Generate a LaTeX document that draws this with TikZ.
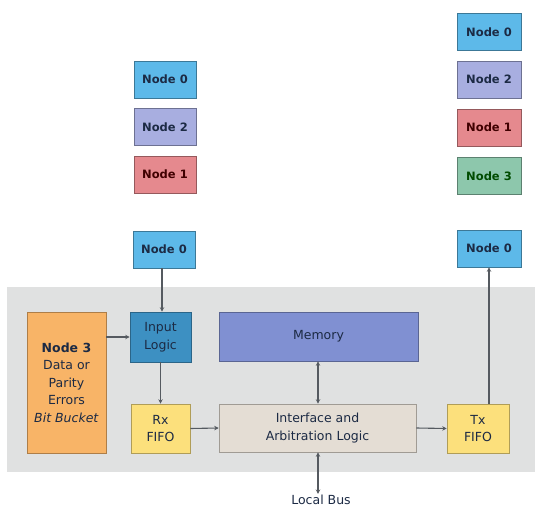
\documentclass[tikz,border=0pt]{standalone}
\usepackage{fontspec}
\setmainfont{DejaVu Sans}
\usetikzlibrary{arrows.meta}
\definecolor{cNzero}{HTML}{5DB9E9}
\definecolor{cNtwo}{HTML}{A8AEE0}
\definecolor{cNone}{HTML}{E5898E}
\definecolor{cNthree}{HTML}{8DC7AC}
\definecolor{cOrange}{HTML}{F8B467}
\definecolor{cInput}{HTML}{3D90C2}
\definecolor{cMemory}{HTML}{8090D2}
\definecolor{cFifo}{HTML}{FCE07C}
\definecolor{cIface}{HTML}{E4DDD4}
\definecolor{cBand}{HTML}{E0E1E1}
\definecolor{cText}{HTML}{1C2A44}
\definecolor{cLine}{HTML}{555A60}
\tikzset{
  nodebox/.style={draw=#1!65!black, fill=#1, line width=0.6pt, minimum width=62pt, minimum height=37pt,
    inner sep=0pt, font=\fontsize{11.5}{13}\selectfont\bfseries, text=cText},
  blockbox/.style={draw=#1!70!black, fill=#1, line width=0.6pt, inner sep=0pt, align=center,
    font=\fontsize{12.5}{17.5}\selectfont, text=cText},
  conn/.style={draw=cLine, line width=1.1pt, -{Stealth[length=4.5pt,width=4.5pt]}},
  dconn/.style={draw=cLine, line width=1.1pt, {Stealth[length=4.5pt,width=4.5pt]}-{Stealth[length=4.5pt,width=4.5pt]}},
}
\begin{document}
\begin{tikzpicture}[x=1pt,y=-1pt]
\useasboundingbox (0,0) rectangle (535,508);
\fill[white] (0,0) rectangle (535,508);
\fill[cBand] (7,287) rectangle (535,472);

% left stack
\node[nodebox=cNzero] (l0) at (165,79.5) {Node 0};
\node[nodebox=cNtwo] (l2) at (165,127) {Node 2};
\node[nodebox=cNone, text=black!75!red] (l1) at (165,174.5) {Node 1};
\node[nodebox=cNzero] (lb0) at (164,249.5) {Node 0};

% right stack
\node[nodebox=cNzero, minimum width=64pt] (r0) at (489,32) {Node 0};
\node[nodebox=cNtwo, minimum width=64pt] (r2) at (489,79.5) {Node 2};
\node[nodebox=cNone, minimum width=64pt, text=black!75!red] (r1) at (489,127.5) {Node 1};
\node[nodebox=cNthree, minimum width=64pt, text=black!70!green] (r3) at (489,176) {Node 3};
\node[nodebox=cNzero, minimum width=64pt] (rb0) at (489,248.5) {Node 0};

% main blocks
\node[blockbox=cOrange, minimum width=79pt, minimum height=141pt] (bucket) at (66.5,382.5)
  {\textbf{Node 3}\\Data or\\Parity\\Errors\\\textit{Bit Bucket}};
\node[blockbox=cInput, minimum width=61pt, minimum height=50pt] (input) at (160.5,337) {Input\\Logic};
\node[blockbox=cMemory, minimum width=199pt, minimum height=49pt] (memory) at (318.5,336.5) {Memory};
\node[blockbox=cFifo, minimum width=59pt, minimum height=49pt] (rx) at (160.5,428.5) {Rx\\FIFO};
\node[blockbox=cIface, minimum width=197pt, minimum height=48pt] (iface) at (317.5,428) {Interface and\\Arbitration Logic};
\node[blockbox=cFifo, minimum width=62pt, minimum height=49pt] (tx) at (478,428.5) {Tx\\FIFO};
\node[font=\fontsize{12.5}{14}\selectfont, text=cText, inner sep=1pt] (bus) at (321,500) {Local Bus};

% connectors
\draw[conn] (lb0.south -| 162,0) -- (input.north -| 162,0);
\draw[conn] (bucket.east |- input) -- (input.west);
\draw[conn] (input.south) -- (rx.north);
\draw[conn] (rx.east) -- (iface.west);
\draw[conn] (iface.east) -- (tx.west);
\draw[conn] (tx.north -| rb0.south) -- (rb0.south);
\draw[dconn] (memory.south -| 318,0) -- (iface.north -| 318,0);
\draw[dconn] (bus.north -| 318,0) -- (iface.south -| 318,0);
\end{tikzpicture}
\end{document}
